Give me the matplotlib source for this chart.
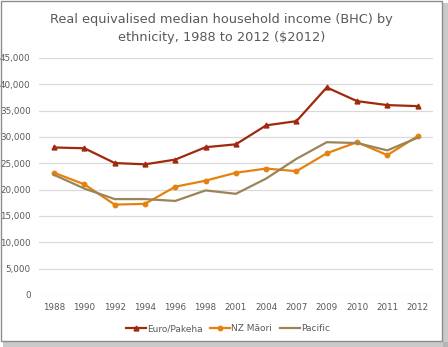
import matplotlib
matplotlib.use("Agg")
import matplotlib.pyplot as plt
from matplotlib.patches import Rectangle

years = ["1988", "1990", "1992", "1994", "1996", "1998", "2001",
         "2004", "2007", "2009", "2010", "2011", "2012"]
euro = [28000, 27850, 25050, 24800, 25700, 28050, 28600,
        32200, 33000, 39400, 36800, 36050, 35850]
maori = [23200, 21000, 17150, 17300, 20550, 21700, 23200,
         24000, 23500, 26900, 29000, 26550, 30150]
pacific = [22800, 20200, 18200, 18200, 17850, 19850, 19200,
           22100, 25850, 29000, 28850, 27450, 29850]

fig = plt.figure(figsize=(4.48, 3.47), dpi=100)
ax = fig.add_axes([0.087, 0.150, 0.879, 0.683])

x = range(len(years))
ax.plot(x, euro, color="#A0290D", lw=1.6, marker="^", ms=3.5, label="Euro/Pakeha")
ax.plot(x, maori, color="#E5820F", lw=1.6, marker="o", ms=3.2, label="NZ Māori")
ax.plot(x, pacific, color="#9B8456", lw=1.6, label="Pacific")

ax.set_xlim(-0.5, len(years) - 0.5)
ax.set_ylim(0, 45000)
ax.set_yticks(range(0, 45001, 5000))
ax.set_yticklabels([f"{v:,}" for v in range(0, 45001, 5000)])
ax.set_xticks(list(x))
ax.set_xticklabels(years)
ax.grid(axis="y", color="#D9D9D9", lw=0.9)
ax.set_axisbelow(True)
for s in ax.spines.values():
    s.set_visible(False)
ax.tick_params(length=0, labelsize=6.3, colors="#595959", pad=6)

fig.text(0.494, 0.918, "Real equivalised median household income (BHC) by\nethnicity, 1988 to 2012 ($2012)",
         ha="center", va="center", fontsize=9.3, color="#595959", linespacing=1.55)

ax.legend(loc="upper center", bbox_to_anchor=(0.48, -0.09), ncol=3, frameon=False,
          fontsize=6.5, labelcolor="#595959", handlelength=2.2, handletextpad=0.1,
          columnspacing=0.9)

# chart frame with shadow
fig.patches.append(Rectangle((443 / 448, 0.0), 5 / 448, 1 - 3 / 347, transform=fig.transFigure,
                             facecolor="#A8A8A8", edgecolor="none", alpha=0.6))
fig.patches.append(Rectangle((3 / 448, 0.0), 1 - 3 / 448, 5 / 347, transform=fig.transFigure,
                             facecolor="#A8A8A8", edgecolor="none", alpha=0.6))
fig.patches.append(Rectangle((0.5 / 448, 6 / 347), 441 / 448, 340 / 347, transform=fig.transFigure,
                             facecolor="none", edgecolor="#8C8C8C", lw=1.0))

fig.savefig("out.png", dpi=100)
